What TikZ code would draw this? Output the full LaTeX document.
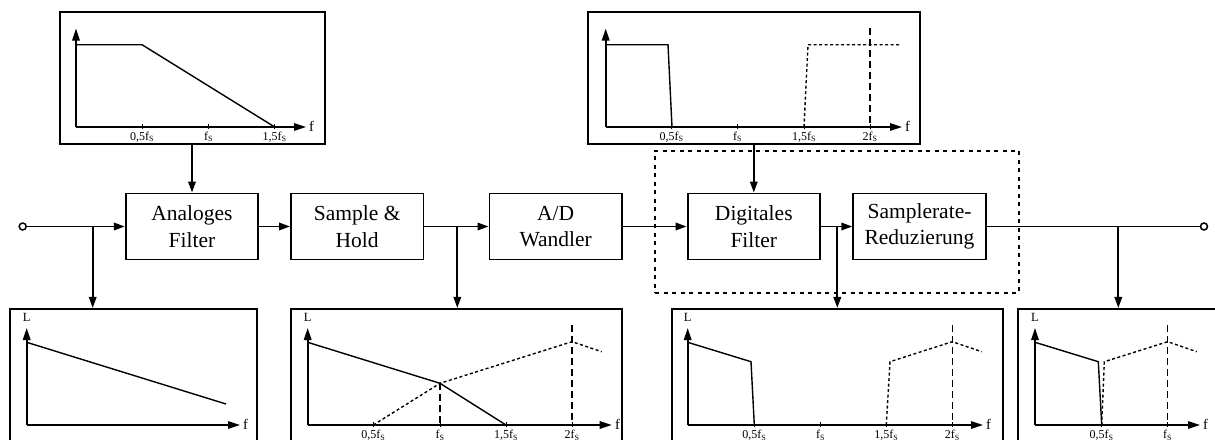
\documentclass[tikz,border=0pt]{standalone}
\usepackage{fontspec}
\setmainfont{Liberation Serif}
\usetikzlibrary{arrows.meta}
\begin{document}
\begin{tikzpicture}[x=1pt,y=-1pt,
  block/.style={draw, line width=1.9pt, rectangle, minimum width=132.5pt, minimum height=66pt, inner sep=0pt, align=center, font=\fontsize{21.5}{26.7}\selectfont},
  panel/.style={draw, line width=2.1pt, rectangle, inner sep=0pt},
  conn/.style={line width=1.8pt, -{Triangle[length=11pt,width=7.5pt]}},
  wire/.style={line width=1.8pt},
  term/.style={circle, draw, line width=1.5pt, fill=white, minimum size=7pt, inner sep=0pt},
  axisl/.style={line width=1.6pt, -{Triangle[length=12pt,width=7.5pt]}},
  curve/.style={line width=1.4pt},
  aliasc/.style={line width=1.4pt, dash pattern=on 3pt off 2.5pt},
  markv/.style={line width=1.3pt, dash pattern=on 7pt off 4pt},
  ticklbl/.style={font=\fontsize{12}{12}\selectfont, anchor=base, inner sep=0pt},
  flbl/.style={font=\fontsize{14.5}{15}\selectfont, anchor=base west, inner sep=0pt},
  Llbl/.style={font=\fontsize{12.5}{13}\selectfont, anchor=base, inner sep=0pt},
  tickm/.style={line width=0.9pt},
  grp/.style={draw, line width=1.6pt, dash pattern=on 4pt off 4.5pt, rectangle, inner sep=0pt}
]
\useasboundingbox (0,0) rectangle (1215,439);

% DSP group (dotted)
\node[grp, minimum width=364pt, minimum height=142pt] (dsp) at (837,221.7) {};

% panels
\node[panel, minimum width=265pt, minimum height=132pt] (p1) at (192.5,78) {};
\node[panel, minimum width=331.7pt, minimum height=132pt] (p2) at (754.2,78) {};
\node[panel, minimum width=247.3pt, minimum height=151pt] (b1) at (133.7,384.5) {};
\node[panel, minimum width=331.3pt, minimum height=151pt] (b2) at (456.7,384.5) {};
\node[panel, minimum width=331.6pt, minimum height=151pt] (b3) at (837.5,384.5) {};
\node[panel, minimum width=211.7pt, minimum height=151pt] (b4) at (1124,384.5) {};

% blocks
\node[block] (af) at (192,226.5) {Analoges\\Filter};
\node[block] (sh) at (357.2,226.5) {Sample \&\\Hold};
\node[block] (ad) at (555.7,226.5) {A/D\\Wandler};
\node[block] (df) at (753.8,226.5) {Digitales\\Filter};
\node[block] (sr) at (919.5,226.5) {Samplerate-\\Reduzierung};

% terminals and junctions
\node[term] (in) at (22.7,226.5) {};
\node[term] (out) at (1204,226.5) {};
\coordinate (j1) at (92.7,226.5);
\coordinate (j2) at (457.3,226.5);
\coordinate (j3) at (837.3,226.5);
\coordinate (j4) at (1118.3,226.5);

% connectors
\draw[conn] (in) -- (af);
\draw[conn] (af) -- (sh);
\draw[conn] (sh) -- (ad);
\draw[conn] (ad) -- (df);
\draw[conn] (df) -- (sr);
\draw[wire] (sr) -- (out);
\draw[conn] (j1) -- (j1 |- b1.north);
\draw[conn] (j2) -- (j2 |- b2.north);
\draw[conn] (j3) -- (j3 |- b3.north);
\draw[conn] (j4) -- (j4 |- b4.north);
\draw[conn] (af.north |- p1.south) -- (af.north);
\draw[conn] (df.north |- p2.south) -- (df.north);

% ---- top plot 1
\draw[axisl] (76,127) -- (76,28.5);
\draw[axisl] (76,127) -- (306,127);
\node[flbl] at (309,131.5) {f};
\draw[curve] (76,44.7) -- (142,44.7) -- (274.7,127);
\foreach \x in {142,208.7,274.7} \draw[tickm] (\x,124) -- (\x,129);
\node[ticklbl] at (142,140) {0,5f\textsubscript{S}};
\node[ticklbl] at (208.7,140) {f\textsubscript{S}};
\node[ticklbl] at (274.7,140) {1,5f\textsubscript{S}};

% ---- top plot 2
\draw[axisl] (605.7,127) -- (605.7,28.5);
\draw[axisl] (605.7,127) -- (902,127);
\node[flbl] at (905,131.5) {f};
\draw[curve] (605.7,44.7) -- (668,44.7) -- (672,127);
\draw[aliasc] (804,127) -- (808,44.7) -- (900,44.7);
\draw[markv] (870,28) -- (870,127);
\foreach \x in {671.7,737.7,804,870} \draw[tickm] (\x,124) -- (\x,129);
\node[ticklbl] at (671.7,140) {0,5f\textsubscript{S}};
\node[ticklbl] at (737.7,140) {f\textsubscript{S}};
\node[ticklbl] at (804,140) {1,5f\textsubscript{S}};
\node[ticklbl] at (870,140) {2f\textsubscript{S}};

% ---- bottom plot 1
\draw[axisl] (26.7,425) -- (26.7,328);
\draw[axisl] (26.7,425) -- (240,425);
\node[flbl] at (243,429) {f};
\node[Llbl] at (26.7,321.7) {L};
\draw[curve] (26.7,342.3) -- (226,404);

% ---- bottom plot 2
\draw[axisl] (307.7,425) -- (307.7,328);
\draw[axisl] (307.7,425) -- (611.7,425);
\node[flbl] at (615,429) {f};
\node[Llbl] at (307.7,321.7) {L};
\draw[curve] (307.7,342.3) -- (440,383.3) -- (506,425);
\draw[aliasc] (373.3,425) -- (440,383.3) -- (572,341.7) -- (601.7,351.7);
\draw[markv] (440,383.3) -- (440,425);
\draw[markv] (572,325) -- (572,425);
\foreach \x in {373.3,440,506,572} \draw[tickm] (\x,422) -- (\x,427);
\node[ticklbl] at (373.3,438.5) {0,5f\textsubscript{S}};
\node[ticklbl] at (440,438.5) {f\textsubscript{S}};
\node[ticklbl] at (506,438.5) {1,5f\textsubscript{S}};
\node[ticklbl] at (572,438.5) {2f\textsubscript{S}};

% ---- bottom plot 3
\draw[axisl] (687.7,425) -- (687.7,328);
\draw[axisl] (687.7,425) -- (983,425);
\node[flbl] at (986,429) {f};
\node[Llbl] at (687.7,321.7) {L};
\draw[curve] (687.7,342.3) -- (751,361.7) -- (754.3,425);
\draw[aliasc] (886.3,425) -- (890,361.7) -- (952.3,341.7) -- (981.7,351.7);
\draw[markv] (952.3,325) -- (952.3,425);
\foreach \x in {754.3,820.7,886.3,952.3} \draw[tickm] (\x,422) -- (\x,427);
\node[ticklbl] at (754.3,438.5) {0,5f\textsubscript{S}};
\node[ticklbl] at (820.7,438.5) {f\textsubscript{S}};
\node[ticklbl] at (886.3,438.5) {1,5f\textsubscript{S}};
\node[ticklbl] at (952.3,438.5) {2f\textsubscript{S}};

% ---- bottom plot 4
\draw[axisl] (1035,425) -- (1035,328);
\draw[axisl] (1035,425) -- (1200,425);
\node[flbl] at (1203,429) {f};
\node[Llbl] at (1035,321.7) {L};
\draw[curve] (1035,342.3) -- (1098.3,361.7) -- (1101.7,425);
\draw[aliasc] (1101.7,425) -- (1104.3,361.7) -- (1167.7,341.7) -- (1196.7,351.7);
\draw[markv] (1167.7,325) -- (1167.7,425);
\foreach \x in {1101.7,1167.7} \draw[tickm] (\x,422) -- (\x,427);
\node[ticklbl] at (1101.7,438.5) {0,5f\textsubscript{S}};
\node[ticklbl] at (1167.7,438.5) {f\textsubscript{S}};
\end{tikzpicture}
\end{document}
